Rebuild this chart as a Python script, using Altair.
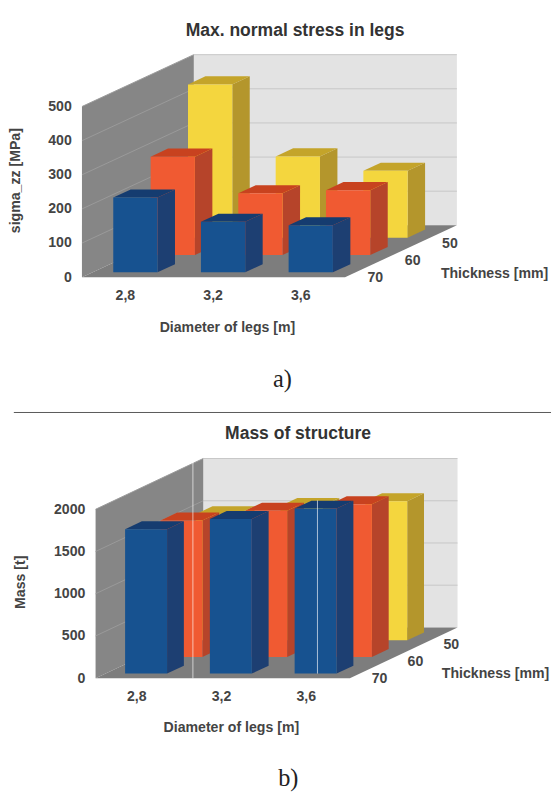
import altair as alt
import pandas as pd

DIAMETERS = ["2,8", "3,2", "3,6"]
THICKNESS = ["50", "60", "70"]
STRESS_50 = [449, 238, 196]
STRESS_60 = [288, 181, 190]
STRESS_70 = [219, 148, 138]
MASS_50 = [1494, 1590, 1647]
MASS_60 = [1617, 1732, 1808]
MASS_70 = [1709, 1831, 1954]
TICKS_A = [0, 100, 200, 300, 400, 500]
TICKS_B = [0, 500, 1000, 1500, 2000]

FRONT = {"50": "#f4d63e", "60": "#f05a32", "70": "#175290"}
SIDE = {"50": "#b4962c", "60": "#b6442a", "70": "#1d3f72"}
TOP = {"50": "#c4a42a", "60": "#c8421f", "70": "#153c70"}
FONT = "Liberation Sans"
TXT = "#444444"


def panel(series, ticks, title, ytitle, letter, cfg):
    ox, oy, wpx, hpx, vmax = cfg["ox"], cfg["oy"], cfg["w"], cfg["h"], cfg["vmax"]
    xmin, xmax, ymax = cfg["xmin"], cfg["xmax"], vmax + oy
    sx = alt.Scale(domain=[xmin, xmax], nice=False, zero=False)
    sy = alt.Scale(domain=[0, ymax], nice=False, zero=False)

    expr = " : ".join(
        f"datum.value < {i + 1} ? '{d}'" for i, d in enumerate(DIAMETERS[:-1])
    ) + f" : '{DIAMETERS[-1]}'"
    axis_style = dict(
        domain=False, ticks=False, grid=False, labelFont=FONT, titleFont=FONT,
        labelFontSize=cfg["fs"], titleFontSize=cfg["fs"], labelFontWeight="bold",
        titleFontWeight="bold", labelColor=TXT, titleColor=TXT,
    )
    xaxis = alt.Axis(
        values=[cfg["lab"] + i for i in range(3)], labelExpr=expr, title="Diameter of legs [m]",
        labelPadding=cfg["lp"], titleX=cfg["tx"], titleY=cfg["ty"], titleBaseline="middle",
        titleAnchor="middle", labelFlush=False, **axis_style,
    )
    yaxis = alt.Axis(
        values=ticks, title=ytitle, labelPadding=cfg["yp"], titleX=cfg["ytx"], titleY=cfg["yty"],
        titleAnchor="middle", labelOverlap=False, offset=cfg["yoff"], format="d", **axis_style,
    )
    X = alt.X("x:Q", scale=sx, axis=xaxis)
    Y = alt.Y("y:Q", scale=sy, axis=yaxis, stack=None)

    n = 3.0
    walls = alt.Chart(pd.DataFrame({"x": [ox], "x2": [n + ox], "y": [oy], "y2": [ymax]})).mark_rect(
        color="#e3e3e3"
    ).encode(x=X, x2="x2:Q", y=Y, y2="y2:Q")
    left = alt.Chart(pd.DataFrame({"x": [0, ox], "y": [0, oy], "y2": [vmax, ymax]})).mark_area(
        color="#868686"
    ).encode(x=X, y=Y, y2="y2:Q")
    floor = alt.Chart(pd.DataFrame({"y": [0, oy], "x": [0, ox], "x2": [n, n + ox]})).mark_area(
        orient="horizontal", color="#7d7d7d"
    ).encode(x=X, x2="x2:Q", y=Y)
    gb = [t + oy for t in ticks if t > 0]
    grid_back = alt.Chart(pd.DataFrame({"y": gb, "x": [ox] * len(gb), "x2": [n + ox] * len(gb)})).mark_rule(
        color="#c6c6c6", strokeWidth=1
    ).encode(x=X, x2="x2:Q", y=Y)
    gl = pd.DataFrame(
        [{"t": t, "x": 0, "y": t} for t in ticks if t > 0] + [{"t": t, "x": ox, "y": t + oy} for t in ticks if t > 0]
    )
    grid_left = alt.Chart(gl).mark_line(color="#9a9a9a", strokeWidth=1).encode(x=X, y=Y, detail="t:N")
    layers = [walls, left, floor, grid_back, grid_left]

    for r, th in enumerate(THICKNESS):
        d0 = cfg["d0"] + (2 - r) * cfg["dr"]
        d1 = d0 + cfg["dd"]
        vals = series[r]
        fr, si, to = [], [], []
        for i, v in enumerate(vals):
            x0 = cfg["bx"] + i + d0 * ox
            x1 = x0 + cfg["bw"]
            y0, y1 = d0 * oy, d1 * oy
            fr.append({"x": x0, "x2": x1, "y": y0, "y2": v + y0})
            si.append({"b": i, "x": x1, "y": y0, "y2": v + y0})
            si.append({"b": i, "x": x1 + cfg["dd"] * ox, "y": y1, "y2": v + y1})
            to.append({"b": i, "y": v + y0, "x": x0, "x2": x1})
            to.append({"b": i, "y": v + y1, "x": x0 + cfg["dd"] * ox, "x2": x1 + cfg["dd"] * ox})
        layers.append(alt.Chart(pd.DataFrame(si)).mark_area(color=SIDE[th]).encode(x=X, y=Y, y2="y2:Q", detail="b:N"))
        layers.append(alt.Chart(pd.DataFrame(to)).mark_area(orient="horizontal", color=TOP[th]).encode(
            x=X, x2="x2:Q", y=Y, detail="b:N"))
        layers.append(alt.Chart(pd.DataFrame(fr)).mark_rect(color=FRONT[th]).encode(x=X, x2="x2:Q", y=Y, y2="y2:Q"))

    depth = pd.DataFrame({
        "label": THICKNESS,
        "x": [n + (r / 3 + 1 / 6) * ox for r in (2, 1, 0)],
        "y": [(r / 3 + 1 / 6) * oy for r in (2, 1, 0)],
    })
    layers.append(alt.Chart(depth).mark_text(
        font=FONT, fontSize=cfg["fs"], fontWeight="bold", color=TXT, dx=12, dy=10, baseline="middle"
    ).encode(x=X, y=Y, text="label:N"))

    one = pd.DataFrame({"t": ["Thickness [mm]"]})
    layers.append(alt.Chart(one).mark_text(
        font=FONT, fontSize=cfg["fs"], fontWeight="bold", color=TXT, baseline="middle"
    ).encode(x=alt.value(cfg["thx"]), y=alt.value(cfg["thy"]), text="t:N"))
    layers.append(alt.Chart(pd.DataFrame({"t": [letter]})).mark_text(
        font="Liberation Serif", fontSize=25, color="#222222", baseline="middle"
    ).encode(x=alt.value(cfg["lx"]), y=alt.value(cfg["ly"]), text="t:N"))

    for extra in cfg["rules"]:
        layers.append(
            alt.Chart(pd.DataFrame({"k": [0]})).mark_rule(
                color=extra["c"], opacity=extra["o"], strokeWidth=extra.get("sw", 1)
            ).encode(**extra["enc"])
        )

    return alt.layer(*layers).properties(
        width=wpx, height=hpx,
        title=alt.TitleParams(
            title, anchor="middle", frame="group", dx=cfg["tdx"], offset=cfg["toff"],
            font=FONT, fontSize=cfg["tfs"], fontWeight="bold", color="#333333",
        ),
    )


CFG_A = dict(
    ox=1.276, oy=152, w=474, h=228.7, vmax=500, xmin=0, xmax=474 / 90.1, fs=14.5, tfs=18, lab=0.49, lp=12,
    tx=149, ty=51.3, yp=11, yoff=0, ytx=-61, yty=129, d0=0.094, dr=0.334, dd=0.156, bx=0.237, bw=0.505,
    thx=424, thy=226, lx=206, ly=333.7, tdx=-18, toff=13,
    rules=[
        dict(c="#555555", o=1, enc=dict(x=alt.value(-70), x2=alt.value(482), y=alt.value(367.7))),
    ],
)
SHIFT_B = 14
CFG_B = dict(
    ox=1.27, oy=601, w=474, h=225.7, vmax=2000, xmin=-SHIFT_B / 87.1, xmax=(474 - SHIFT_B) / 87.1, fs=14.5, tfs=18,
    lab=0.48, lp=12,
    tx=139 + SHIFT_B, ty=51, yp=11, yoff=-SHIFT_B, ytx=-70, yty=126.7, d0=0.09, dr=0.328, dd=0.156, bx=0.234, bw=0.495,
    thx=411 + SHIFT_B, thy=222, lx=198 + SHIFT_B, ly=329, tdx=-15, toff=14,
    rules=[
        dict(c="#ffffff", o=0.65, enc=dict(x=alt.value(100 + SHIFT_B), y=alt.value(0), y2=alt.value(226))),
        dict(c="#ffffff", o=0.65, enc=dict(x=alt.value(228 + SHIFT_B), y=alt.value(43), y2=alt.value(221))),
    ],
)

a = panel([STRESS_50, STRESS_60, STRESS_70], TICKS_A, "Max. normal stress in legs", "sigma_zz [MPa]", "a)", CFG_A)
b = panel([MASS_50, MASS_60, MASS_70], TICKS_B, "Mass of structure", "Mass [t]", "b)", CFG_B)

chart = alt.vconcat(a, b, spacing=12).properties(
    padding={"left": 0, "top": 4, "right": 0, "bottom": 0}
).configure_view(stroke=None)
chart.save("out.html", embed_options={"renderer": "svg", "actions": False})
